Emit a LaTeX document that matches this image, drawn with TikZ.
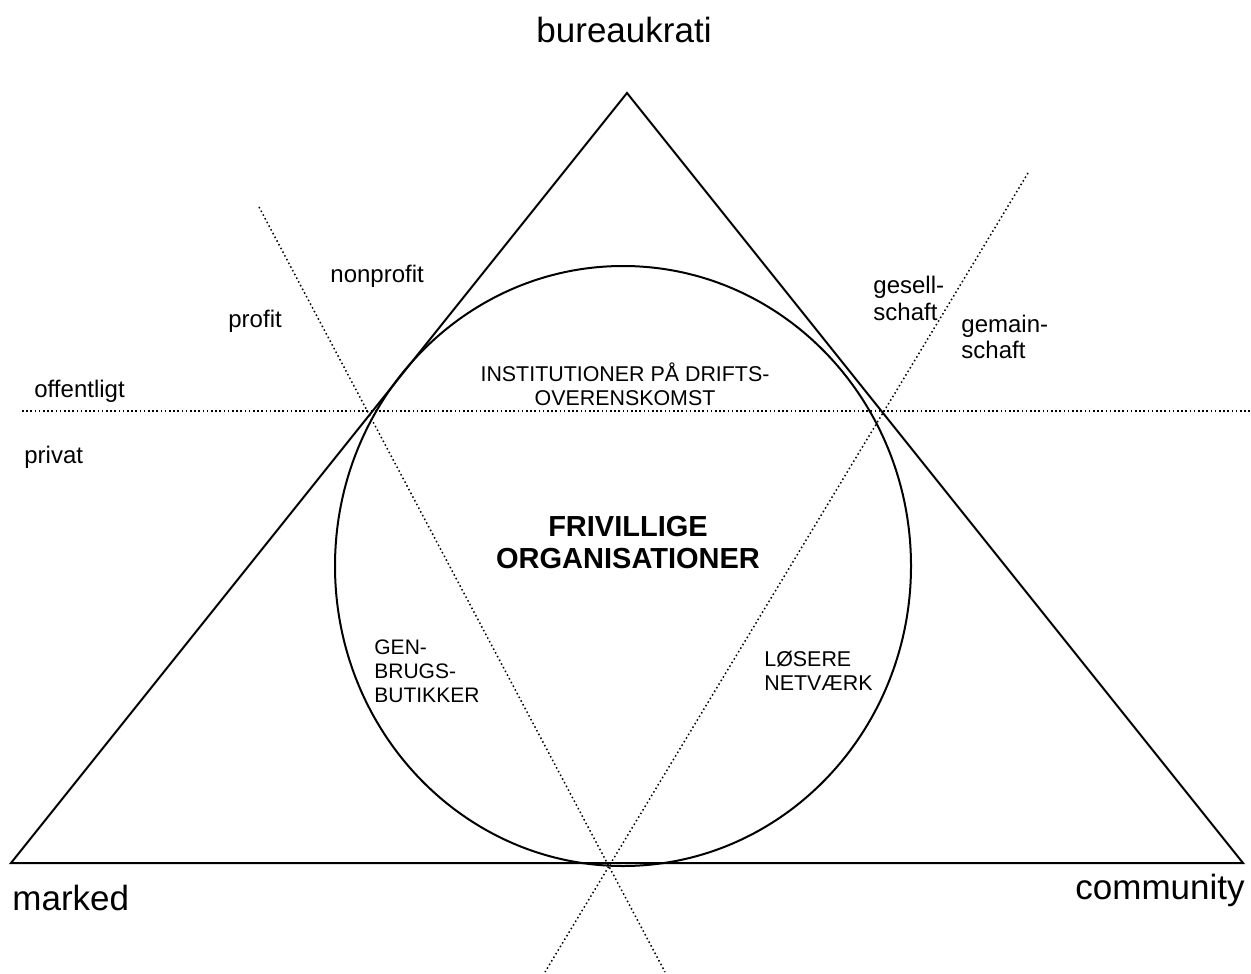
\documentclass[tikz,border=0pt]{standalone}
\usepackage{fontspec}
\setmainfont{Liberation Sans}
\begin{document}
\begin{tikzpicture}[x=0.5pt,y=-0.5pt,
  solidline/.style={line width=1pt, black},
  dotline/.style={line width=0.75pt, dash pattern=on 0.75pt off 1.35pt},
  biglabel/.style={inner sep=0pt, font=\fontsize{17.5}{21}\selectfont},
  smalllabel/.style={inner sep=0pt, align=left, font=\fontsize{12}{13.5}\selectfont},
  capslabel/.style={inner sep=0pt, font=\fontsize{10.7}{11.6}\selectfont},
  boldlabel/.style={inner sep=0pt, align=center, font=\fontsize{14.5}{16}\selectfont\bfseries}]
\useasboundingbox (0,0) rectangle (1251,973);
% triangle
\coordinate (A) at (627,93);
\coordinate (B) at (11,863);
\coordinate (C) at (1243,863);
\draw[solidline, line join=miter] (A) -- (B) -- (C) -- cycle;
% circle
\coordinate (O) at (623,566);
\draw[solidline] (O) ellipse [x radius=288, y radius=300];
% dotted lines
\coordinate (h1) at (22,411);
\coordinate (h2) at (1251,411);
\coordinate (p1) at (259,207);
\coordinate (p2) at (665,972);
\coordinate (g1) at (1028,173);
\coordinate (g2) at (545,972);
\draw[dotline] (h1) -- (h2);
\draw[dotline] (p1) -- (p2);
\draw[dotline] (g1) -- (g2);
% labels
\node[biglabel, anchor=base] (bur) at (624,43) {bureaukrati};
\node[biglabel, anchor=base west] (mar) at (12,910) {marked};
\node[biglabel, anchor=base east] (com) at (1245,899) {community};
\node[smalllabel, anchor=base west] (nonp) at (330,282) {nonprofit};
\node[smalllabel, anchor=base west] (prof) at (228,327) {profit};
\node[smalllabel, anchor=base west] (off) at (34,397) {offentligt};
\node[smalllabel, anchor=base west] (priv) at (24,463) {privat};
\node[smalllabel, anchor=base west] (ges) at (873,320) {gesell-\\schaft};
\node[smalllabel, anchor=base west, font=\fontsize{12}{13}\selectfont] (gem) at (961,358) {gemain-\\schaft};
\node[capslabel, align=center, anchor=base] (inst) at (625,405) {INSTITUTIONER PÅ DRIFTS-\\OVERENSKOMST};
\node[boldlabel, anchor=base] (friv) at (628,568) {FRIVILLIGE\\ORGANISATIONER};
\node[capslabel, align=left, anchor=base west, font=\fontsize{10.5}{12}\selectfont] (gen) at (374,702) {GEN-\\BRUGS-\\BUTIKKER};
\node[capslabel, align=left, anchor=base west] (los) at (764,690) {LØSERE\\NETVÆRK};
\end{tikzpicture}
\end{document}
